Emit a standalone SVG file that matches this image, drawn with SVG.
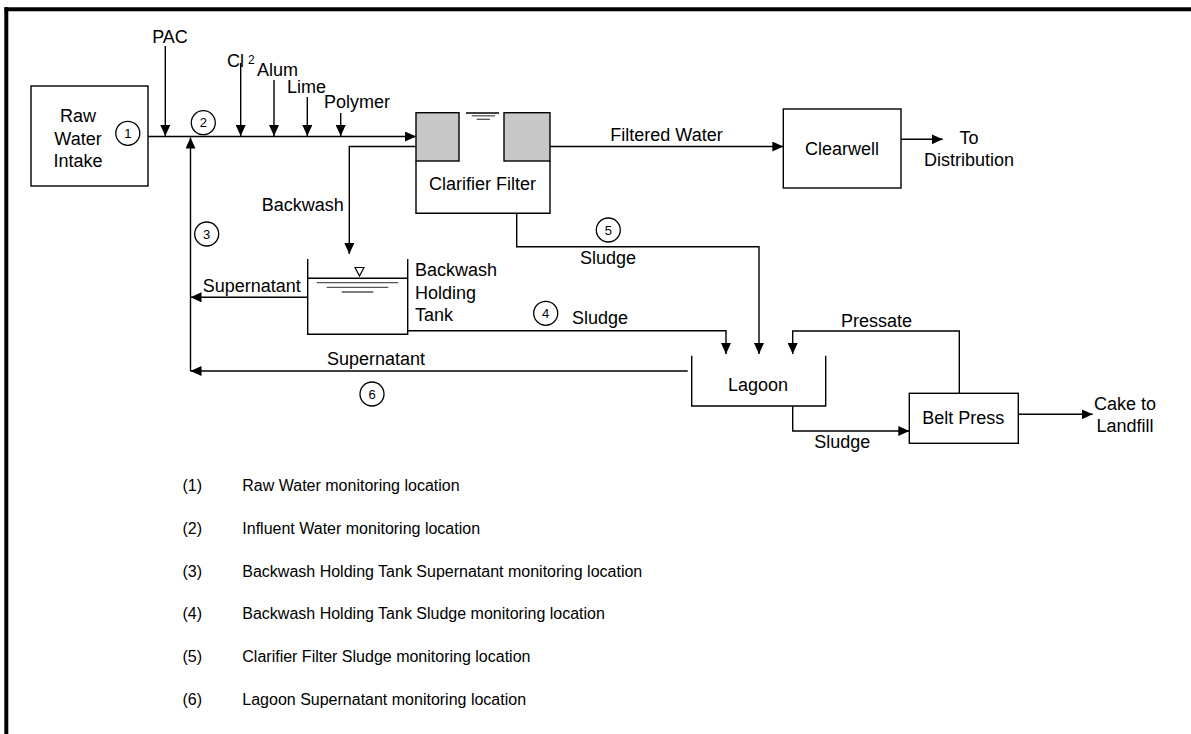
<svg xmlns="http://www.w3.org/2000/svg" width="1191" height="734" viewBox="0 0 1191 734">
<defs>
<marker id="ah" markerUnits="userSpaceOnUse" markerWidth="12" markerHeight="10" refX="11" refY="5" orient="auto">
<path d="M0,0 L11,5 L0,10 z" fill="#000"/>
</marker>
<style>
text{font-family:"Liberation Sans",Arial,sans-serif;fill:#000}
.t{font-size:18px}
.m{text-anchor:middle}
.n{font-size:13px;text-anchor:middle}
.lg{font-size:16px}
.ln{fill:none;stroke:#000;stroke-width:1.4}
.box{fill:#fff;stroke:#000;stroke-width:1.4}
.c{fill:#fff;stroke:#000;stroke-width:1.3}
.w{stroke:#555;stroke-width:1.3}
</style>
</defs>
<rect width="1191" height="734" fill="#fff"/>
<g id="frame">
<line x1="4.5" y1="9.3" x2="1191" y2="9.3" stroke="#000" stroke-width="4"/>
<line x1="6.3" y1="7.3" x2="6.3" y2="734" stroke="#000" stroke-width="4"/>
</g>

<g id="connectors">
<line class="ln" x1="148" y1="136.5" x2="416" y2="136.5" marker-end="url(#ah)"/>
<line class="ln" x1="165.3" y1="46" x2="165.3" y2="136" marker-end="url(#ah)"/>
<line class="ln" x1="240.7" y1="63" x2="240.7" y2="136" marker-end="url(#ah)"/>
<line class="ln" x1="274" y1="80" x2="274" y2="136" marker-end="url(#ah)"/>
<line class="ln" x1="307.3" y1="97" x2="307.3" y2="136" marker-end="url(#ah)"/>
<line class="ln" x1="340.7" y1="113" x2="340.7" y2="136" marker-end="url(#ah)"/>
<line class="ln" x1="190.5" y1="371" x2="190.5" y2="137.5" marker-end="url(#ah)"/>
<polyline class="ln" points="416,146.5 349.3,146.5 349.3,254" marker-end="url(#ah)"/>
<line class="ln" x1="550" y1="146.5" x2="783.3" y2="146.5" marker-end="url(#ah)"/>
<line class="ln" x1="901" y1="139.3" x2="942.7" y2="139.3" marker-end="url(#ah)"/>
<line class="ln" x1="307.7" y1="297.3" x2="190.5" y2="297.3" marker-end="url(#ah)"/>
<line class="ln" x1="687.7" y1="371" x2="190.5" y2="371" marker-end="url(#ah)"/>
<polyline class="ln" points="516.7,213.3 516.7,246.7 759,246.7 759,354" marker-end="url(#ah)"/>
<polyline class="ln" points="407.7,330.7 726,330.7 726,354" marker-end="url(#ah)"/>
<polyline class="ln" points="959.3,393.3 959.3,331 792.7,331 792.7,354" marker-end="url(#ah)"/>
<polyline class="ln" points="792.7,406 792.7,431 909.3,431" marker-end="url(#ah)"/>
<line class="ln" x1="1018.3" y1="414.3" x2="1092.7" y2="414.3" marker-end="url(#ah)"/>
<text class="t m" x="666.5" y="140.7">Filtered Water</text>
<text class="t" x="261.7" y="210.7">Backwash</text>
<text class="t" x="202.7" y="291.7">Supernatant</text>
<text class="t" x="327" y="365">Supernatant</text>
<text class="t m" x="608" y="264">Sludge</text>
<text class="t m" x="600" y="324">Sludge</text>
<text class="t m" x="876.5" y="327">Pressate</text>
<text class="t m" x="842.3" y="447.7">Sludge</text>
<text class="t m" x="969" y="144">To</text>
<text class="t m" x="969" y="166">Distribution</text>
<text class="t m" x="1125" y="410">Cake to</text>
<text class="t m" x="1125" y="432">Landfill</text>
<text class="t m" x="170" y="42.7">PAC</text>
<text class="t" x="227" y="66.5">Cl</text>
<text x="248" y="63.5" font-size="12">2</text>
<text class="t" x="257" y="76">Alum</text>
<text class="t" x="287" y="93">Lime</text>
<text class="t" x="324" y="108">Polymer</text>
</g>

<g id="raw-water-intake">
<rect class="box" x="31" y="86" width="117" height="100"/>
<text class="t m" x="78" y="121.7">Raw</text>
<text class="t m" x="78" y="145">Water</text>
<text class="t m" x="78" y="166.7">Intake</text>
</g>

<g id="clarifier-filter">
<path class="ln" d="M416,161 V213.3 H550 V161"/>
<rect x="416" y="112.7" width="43" height="48.3" fill="#c8c8c8" stroke="#000" stroke-width="1.4"/>
<rect x="504" y="112.7" width="46" height="48.3" fill="#c8c8c8" stroke="#000" stroke-width="1.4"/>
<line x1="466" y1="113" x2="499" y2="113" stroke="#000" stroke-width="1.6"/>
<line class="w" x1="471.7" y1="115.8" x2="495" y2="115.8"/>
<line class="w" x1="476.7" y1="119.3" x2="490" y2="119.3"/>
<text class="t m" x="482.5" y="190">Clarifier Filter</text>
</g>

<g id="clearwell">
<rect class="box" x="783.3" y="109" width="117.7" height="79"/>
<text class="t m" x="842" y="155">Clearwell</text>
</g>

<g id="backwash-holding-tank">
<path class="ln" d="M307.7,259 V334.3 H407.7 V259"/>
<line class="ln" x1="307.7" y1="278.3" x2="407.7" y2="278.3"/>
<line class="w" x1="316.7" y1="282.7" x2="398.3" y2="282.7"/>
<line class="w" x1="326.7" y1="287.3" x2="388.3" y2="287.3"/>
<line class="w" x1="341.7" y1="292" x2="373.3" y2="292"/>
<polygon points="355,267.5 364,267.5 359.5,276" fill="none" stroke="#000" stroke-width="1.2"/>
<text class="t" x="415" y="276">Backwash</text>
<text class="t" x="415" y="298.5">Holding</text>
<text class="t" x="415" y="320.5">Tank</text>
</g>

<g id="lagoon">
<path class="ln" d="M691.7,355.7 V406 H825.7 V355.7"/>
<text class="t m" x="758" y="391">Lagoon</text>
</g>

<g id="belt-press">
<rect class="box" x="909.3" y="393.3" width="109" height="50"/>
<text class="t m" x="963.3" y="424">Belt Press</text>
</g>

<g id="monitoring-points">
<circle class="c" cx="127.8" cy="133.3" r="12"/><text class="n" x="127.8" y="138">1</text>
<circle class="c" cx="203.3" cy="122.7" r="12"/><text class="n" x="203.3" y="127.4">2</text>
<circle class="c" cx="206.7" cy="234" r="12"/><text class="n" x="206.7" y="238.7">3</text>
<circle class="c" cx="545.7" cy="313.3" r="12"/><text class="n" x="545.7" y="318">4</text>
<circle class="c" cx="608.3" cy="230" r="12"/><text class="n" x="608.3" y="234.7">5</text>
<circle class="c" cx="372" cy="394" r="12"/><text class="n" x="372" y="398.7">6</text>
</g>

<g id="legend">
<text class="lg" x="182.5" y="491">(1)</text><text class="lg" x="242.3" y="491">Raw Water monitoring location</text>
<text class="lg" x="182.5" y="533.8">(2)</text><text class="lg" x="242.3" y="533.8">Influent Water monitoring location</text>
<text class="lg" x="182.5" y="576.6">(3)</text><text class="lg" x="242.3" y="576.6">Backwash Holding Tank Supernatant monitoring location</text>
<text class="lg" x="182.5" y="619.4">(4)</text><text class="lg" x="242.3" y="619.4">Backwash Holding Tank Sludge monitoring location</text>
<text class="lg" x="182.5" y="662.2">(5)</text><text class="lg" x="242.3" y="662.2">Clarifier Filter Sludge monitoring location</text>
<text class="lg" x="182.5" y="705">(6)</text><text class="lg" x="242.3" y="705">Lagoon Supernatant monitoring location</text>
</g>
</svg>
